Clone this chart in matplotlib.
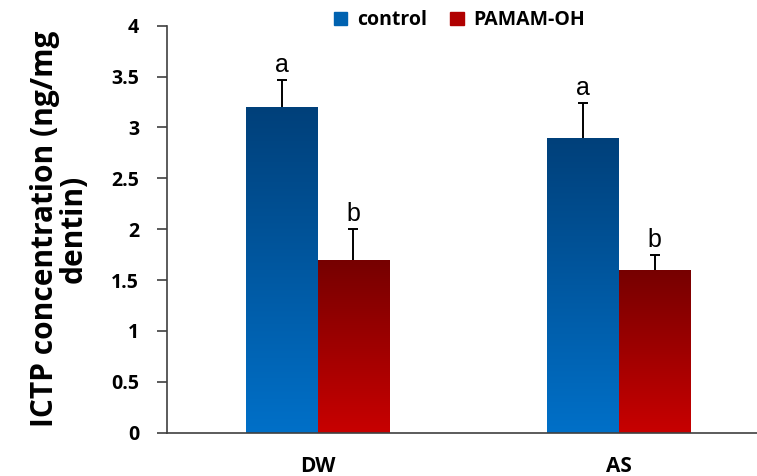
import numpy as np
import matplotlib.pyplot as plt
from matplotlib.colors import LinearSegmentedColormap
from matplotlib.patches import Patch

groups = ["DW", "AS"]
series = ["control", "PAMAM-OH"]
control = [3.2, 2.9]
control_err = [0.27, 0.34]
pamam = [1.7, 1.6]
pamam_err = [0.3, 0.15]
letters_control = ["a", "a"]
letters_pamam = ["b", "b"]

plt.rcParams['font.family'] = ['Open Sans', 'DejaVu Sans']

fig = plt.figure(figsize=(7.57, 4.76), dpi=100)
ax = fig.add_axes([0.2206, 0.091, 0.7794, 0.855])

x = np.arange(len(groups))
w = 0.239

blue_cmap = LinearSegmentedColormap.from_list("b", ["#0070C8", "#00407A"])
red_cmap = LinearSegmentedColormap.from_list("r", ["#C80000", "#760000"])
grad = np.linspace(0, 1, 256).reshape(-1, 1)

def gradient_bars(xpos, vals, errs, cmap, letters):
    bars = ax.bar(xpos, vals, w, color="none", edgecolor="none", zorder=2)
    for b in bars:
        x0, y0 = b.get_x(), b.get_y()
        im = ax.imshow(grad, cmap=cmap, origin="lower", aspect="auto",
                       extent=[x0, x0 + b.get_width(), y0, y0 + b.get_height()],
                       zorder=1)
        im.set_clip_path(b)
    eb = ax.errorbar(xpos, vals, yerr=[np.zeros(len(vals)), errs], fmt="none",
                     ecolor="black", elinewidth=1.4, capsize=3.5, capthick=1.4, zorder=3)
    eb[1][0].set_visible(False)  # hide the lower cap
    for xi, v, e, t in zip(xpos, vals, errs, letters):
        ax.text(xi, v + e + 0.03, t, ha="center", va="bottom", fontsize=18,
                family=["Liberation Sans", "DejaVu Sans"])
    return bars

gradient_bars(x - w / 2, control, control_err, blue_cmap, letters_control)
gradient_bars(x + w / 2, pamam, pamam_err, red_cmap, letters_pamam)

ax.set_xlim(-0.5, 1.46)
ax.set_ylim(0, 4)
ax.set_yticks(np.arange(0, 4.01, 0.5))
ax.set_yticklabels(["0", "0.5", "1", "1.5", "2", "2.5", "3", "3.5", "4"])
ax.set_xticks(x)
ax.set_xticklabels(groups)
ax.tick_params(axis="y", direction="out", length=7, width=1.2, color="#404040",
               pad=13, labelsize=14)
ax.tick_params(axis="x", length=0, pad=17, labelsize=15)
for lab in ax.get_yticklabels() + ax.get_xticklabels():
    lab.set_fontweight("bold")

for s in ["top", "right"]:
    ax.spines[s].set_visible(False)
for s in ["left", "bottom"]:
    ax.spines[s].set_color("#404040")
    ax.spines[s].set_linewidth(1.2)

ax.set_ylabel("ICTP concentration (ng/mg\ndentin)", fontsize=21.5, fontweight="bold",
              labelpad=16, linespacing=0.95)

handles = [Patch(facecolor="#0062B0", edgecolor="#0062B0"),
           Patch(facecolor="#B00000", edgecolor="#B00000")]
fig.legend(handles, series, loc="upper center", bbox_to_anchor=(0.607, 1.015),
           ncol=2, frameon=False, handlelength=0.7, handleheight=0.7,
           handletextpad=0.5, columnspacing=1.2, prop={"weight": "bold", "size": 14})

fig.savefig("out.png", dpi=100)
